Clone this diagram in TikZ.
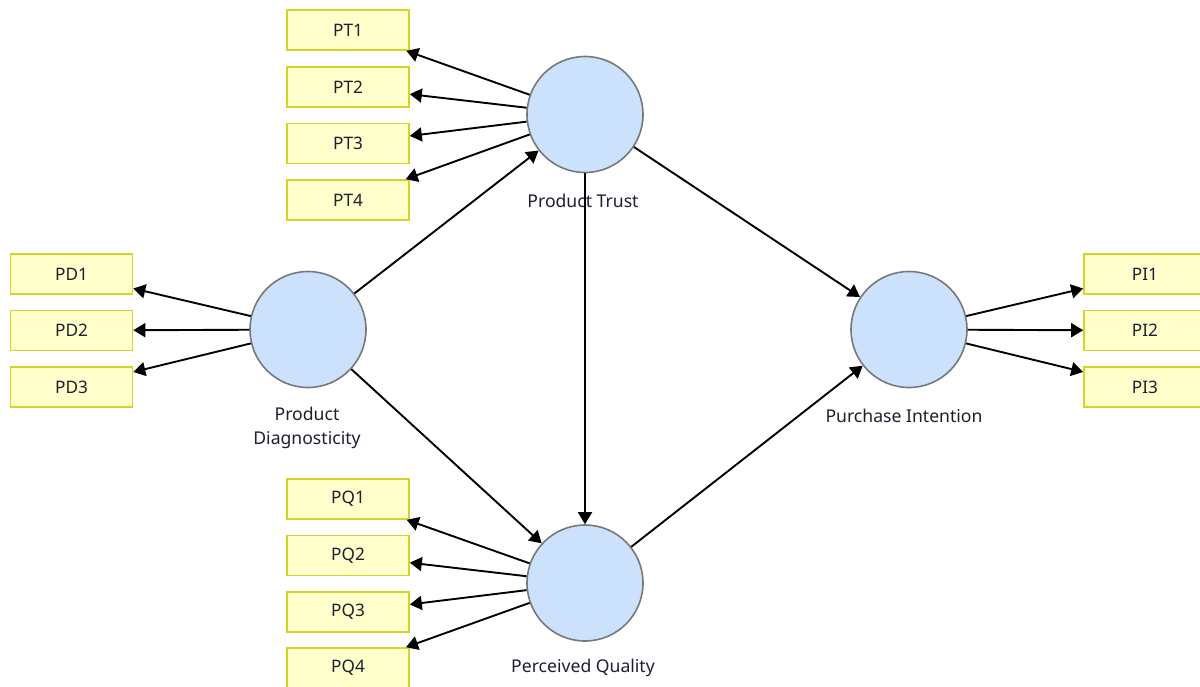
\documentclass[tikz,border=0pt]{standalone}
\usepackage{fontspec}
\setmainfont{Noto Sans}
\usepackage{xcolor}
\usetikzlibrary{arrows.meta}
\definecolor{itemfill}{RGB}{255,255,204}
\definecolor{itemdraw}{RGB}{212,212,40}
\definecolor{latfill}{RGB}{204,225,252}
\definecolor{latdraw}{RGB}{120,120,120}
\definecolor{txt}{RGB}{30,30,45}
\begin{document}
\begin{tikzpicture}[x=0.5pt,y=-0.5pt,
    item/.style={draw=itemdraw,fill=itemfill,line width=0.8pt,minimum width=61pt,minimum height=20pt,inner sep=0pt,text=txt,font=\fontsize{8.6}{10}\selectfont},
    latent/.style={circle,draw=latdraw,fill=latfill,line width=0.8pt,minimum size=58pt,inner sep=0pt},
    lab/.style={text=txt,font=\fontsize{8.8}{12}\selectfont,align=center},
    path/.style={line width=0.95pt,-{Triangle[length=6pt,width=7pt]}}]
	\useasboundingbox (0,0) rectangle (1200,686);
	% indicator boxes
	\node[item] (pt1) at (348,30) {PT1};
	\node[item] (pt2) at (348,87) {PT2};
	\node[item] (pt3) at (348,143.5) {PT3};
	\node[item] (pt4) at (348,200) {PT4};
	\node[item] (pd1) at (71.5,274) {PD1};
	\node[item] (pd2) at (71.5,330.5) {PD2};
	\node[item] (pd3) at (71.5,387) {PD3};
	\node[item] (pi1) at (1145,274) {PI1};
	\node[item] (pi2) at (1145,330.5) {PI2};
	\node[item] (pi3) at (1145,387) {PI3};
	\node[item] (pq1) at (348,499) {PQ1};
	\node[item] (pq2) at (348,555.5) {PQ2};
	\node[item] (pq3) at (348,612) {PQ3};
	\node[item] (pq4) at (348,668) {PQ4};
	% constructs
	\node[latent] (trust) at (585,114.5) {};
	\node[latent] (diag) at (308,329.5) {};
	\node[latent] (intent) at (909,329.5) {};
	\node[latent] (qual) at (585,583) {};
	\node[lab] (trustlab) at (583,201) {Product Trust};
	\node[lab] (diaglab) at (307,428) {Product\\Diagnosticity};
	\node[lab] (intentlab) at (904,416) {Purchase Intention};
	\node[lab] (quallab) at (583,668) {Perceived Quality};
	% outer loadings
	\draw[path] (trust) -- (pt1);
	\draw[path] (trust) -- (pt2);
	\draw[path] (trust) -- (pt3);
	\draw[path] (trust) -- (pt4);
	\draw[path] (diag) -- (pd1);
	\draw[path] (diag) -- (pd2);
	\draw[path] (diag) -- (pd3);
	\draw[path] (intent) -- (pi1);
	\draw[path] (intent) -- (pi2);
	\draw[path] (intent) -- (pi3);
	\draw[path] (qual) -- (pq1);
	\draw[path] (qual) -- (pq2);
	\draw[path] (qual) -- (pq3);
	\draw[path] (qual) -- (pq4);
	% inner model
	\draw[path] (diag) -- (trust);
	\draw[path] (diag) -- (qual);
	\draw[path] (trust) -- (qual);
	\draw[path] (trust) -- (intent);
	\draw[path] (qual) -- (intent);
\end{tikzpicture}
\end{document}
